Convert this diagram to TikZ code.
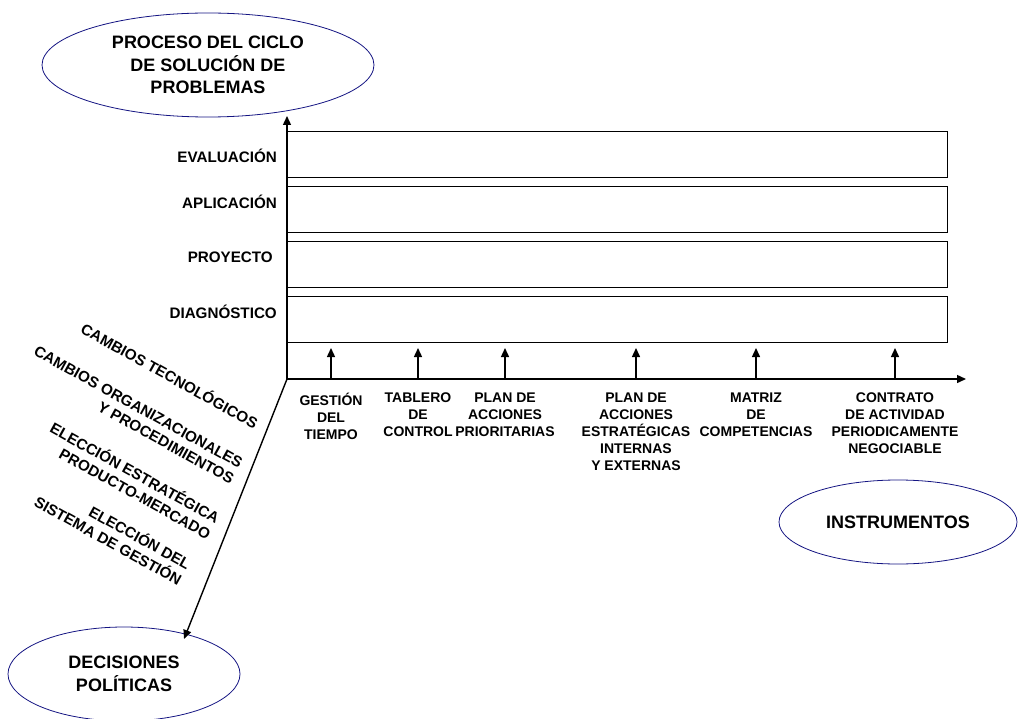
\documentclass[tikz,border=0pt]{standalone}
\usepackage{fontspec}
\setmainfont{Liberation Sans}
\usetikzlibrary{arrows.meta,positioning,shapes.geometric}
\definecolor{navy}{RGB}{20,20,130}

\begin{document}
\begin{tikzpicture}[
      x=1pt,y=-1pt,
      >={Triangle[length=9pt,width=8pt]},
      axis/.style={draw,line width=1.4pt},
      rowbox/.style={draw,line width=0.9pt,minimum width=660.5,minimum height=46,inner sep=0},
      bubble/.style={draw=navy,ellipse,line width=0.8pt,inner sep=0,align=center,
        font=\fontsize{18}{22.5}\selectfont\bfseries},
      lbl/.style={font=\fontsize{14}{17}\selectfont\bfseries,inner sep=0,align=center},
      stage/.style={font=\fontsize{15.2}{18}\selectfont\bfseries,inner sep=0,anchor=east},
      diag/.style={font=\fontsize{15.2}{18}\selectfont\bfseries,inner sep=0,align=right,rotate=-29}
    ]
    \useasboundingbox (0,0) rectangle (1019,719);
    % the three ellipses
    \node[bubble,minimum width=332,minimum height=104] (ciclo) at (208,65)
      {PROCESO DEL CICLO\\DE SOLUCIÓN DE\\PROBLEMAS};
    \node[bubble,minimum width=232,minimum height=94] (decis) at (124,674)
      {DECISIONES\\POLÍTICAS};
    \node[bubble,minimum width=238,minimum height=84] (instr) at (898,522)
      {INSTRUMENTOS};
    % axes
    \coordinate (O) at (287,379);
    \coordinate (ytop) at (287,116);
    \coordinate (xend) at (966,379);
    \coordinate (dend) at (184,639);
    \draw[axis,->] (O) -- (ytop);
    \draw[axis,->] (O) -- (xend);
    \draw[axis,->] (O) -- (dend);
    % stages
    \node[rowbox] (rowev) at (617.3,154.3) {};
    \node[rowbox] (rowap) at (617.3,209.7) {};
    \node[rowbox] (rowpr) at (617.3,264.3) {};
    \node[rowbox] (rowdi) at (617.3,319.7) {};
    \node[stage] (evalu) at (277,156) {EVALUACIÓN};
    \node[stage] (aplic) at (277,202) {APLICACIÓN};
    \node[stage] (proy) at (273,257) {PROYECTO};
    \node[stage] (diagn) at (277,312) {DIAGNÓSTICO};
    % instruments
    \foreach \x/\t [count=\i] in {
        331/{GESTIÓN\\DEL\\TIEMPO},
        418/{TABLERO\\DE\\CONTROL},
        505/{PLAN DE\\ACCIONES\\PRIORITARIAS},
        636/{PLAN DE\\ACCIONES\\ESTRATÉGICAS\\INTERNAS\\Y EXTERNAS},
        756/{MATRIZ\\DE\\COMPETENCIAS},
        895/{CONTRATO\\DE ACTIVIDAD\\PERIODICAMENTE\\NEGOCIABLE}}{
      \coordinate (base\i) at (\x,379);
      \coordinate (tip\i) at (\x,348);
      \draw[axis,->] (base\i) -- (tip\i);
      \node[lbl,below=14pt of base\i] (tool\i) {\t};
    }
    % political decisions
    \node[diag] (tecno) at (170,375) {CAMBIOS TECNOLÓGICOS};
    \node[diag] (organ) at (134,415) {CAMBIOS ORGANIZACIONALES\\Y PROCEDIMIENTOS};
    \node[diag] (estra) at (131,480) {ELECCIÓN ESTRATÉGICA\\PRODUCTO-MERCADO};
    \node[diag] (siste) at (113,532) {ELECCIÓN DEL\\SISTEMA DE GESTIÓN};
  \end{tikzpicture}
\end{document}
